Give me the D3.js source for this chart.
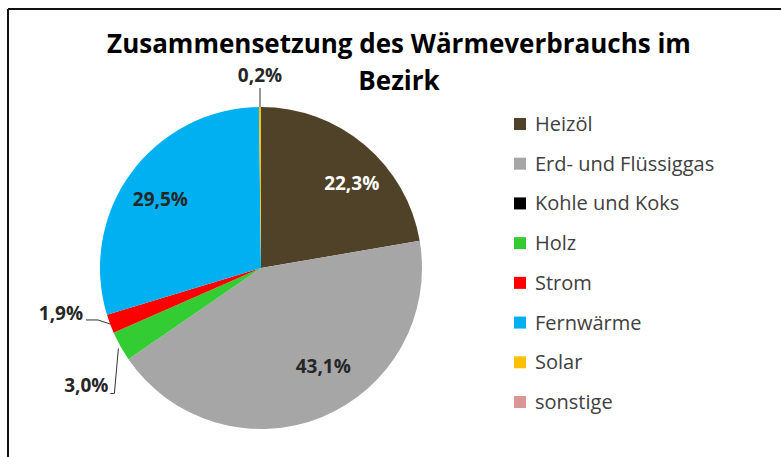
<!DOCTYPE html>
<html lang="de">
<head>
  <meta charset="UTF-8">
  <title>Zusammensetzung des Wärmeverbrauchs im Bezirk</title>
  <script src="https://d3js.org/d3.v7.min.js"></script>
  <style>
    body { margin: 0; background: #fff; }
    svg { display: block; }
    .title { font-family: "Open Sans", sans-serif; font-weight: bold; font-size: 26px; fill: #000; }
    .legend text { font-family: "Open Sans", sans-serif; font-size: 20px; fill: #404040; }
    .lbl { font-family: "Open Sans", sans-serif; font-weight: bold; font-size: 19px; }
  </style>
</head>
<body>
  <svg width="781" height="457"></svg>
  <script>
    const categories = ["Heizöl", "Erd- und Flüssiggas", "Kohle und Koks", "Holz", "Strom", "Fernwärme", "Solar", "sonstige"];
    const values = [22.3, 43.1, 0, 3.0, 1.9, 29.5, 0.2, 0];
    const labels = ["22,3%", "43,1%", "", "3,0%", "1,9%", "29,5%", "0,2%", ""];
    const colors = ["#4f4228", "#a6a6a6", "#000000", "#33cc33", "#ff0000", "#00b0f0", "#ffc000", "#d99694"];

    const svg = d3.select("svg");
    const cx = 261, cy = 268, r = 161;

    // frame (only left and top edges are visible in the shot)
    svg.append("line").attr("x1", 8).attr("y1", 9).attr("x2", 781).attr("y2", 9)
      .attr("stroke", "#111").attr("stroke-width", 2);
    svg.append("line").attr("x1", 8).attr("y1", 9).attr("x2", 8).attr("y2", 457)
      .attr("stroke", "#111").attr("stroke-width", 2);

    // title
    const title = svg.append("text").attr("class", "title").attr("text-anchor", "middle");
    title.append("tspan").attr("x", 399).attr("y", 53).text("Zusammensetzung des Wärmeverbrauchs im");
    title.append("tspan").attr("x", 399).attr("y", 90).text("Bezirk");

    const data = categories.map((c, i) => ({ name: c, value: values[i], label: labels[i], color: colors[i] }));
    const pie = d3.pie().sort(null).value(d => d.value);
    const arcs = pie(data);
    const arc = d3.arc().innerRadius(0).outerRadius(r);

    const g = svg.append("g").attr("transform", `translate(${cx},${cy})`);
    g.selectAll("path")
      .data(arcs.filter(a => a.data.value > 0))
      .join("path")
      .attr("d", arc)
      .attr("fill", d => d.data.color);

    const mid = a => (a.startAngle + a.endAngle) / 2;
    const pt = (ang, rad) => [rad * Math.sin(ang), -rad * Math.cos(ang)];

    // labels inside the slices
    const inside = { "Heizöl": [0.12, 124], "Erd- und Flüssiggas": [-0.18, 116], "Fernwärme": [-0.03, 122] };
    arcs.filter(a => inside[a.data.name]).forEach(a => {
      const [da, rr] = inside[a.data.name];
      const [x, y] = pt(mid(a) + da, rr);
      g.append("text").attr("class", "lbl")
        .attr("x", x).attr("y", y).attr("dy", "0.35em")
        .attr("text-anchor", "middle")
        .attr("fill", a.data.name === "Heizöl" ? "#fff" : "#262626")
        .text(a.data.label);
    });

    // labels outside with leader lines
    const line = d3.line();
    arcs.forEach(a => {
      const n = a.data.name;
      if (!["Solar", "Strom", "Holz"].includes(n)) return;
      const p0 = pt(mid(a), r);
      let pts, tx, ty, anchor;
      if (n === "Solar") {
        pts = [p0, [p0[0], p0[1] - 19]];
        tx = p0[0]; ty = p0[1] - 32; anchor = "middle";
      } else if (n === "Strom") {
        pts = [p0, [p0[0] - 12, p0[1] - 4], [p0[0] - 24, p0[1] - 4]];
        tx = p0[0] - 27; ty = p0[1] - 11; anchor = "end";
      } else {
        pts = [[p0[0] - 2, p0[1] + 2], [p0[0] - 6, p0[1] + 47], [p0[0] - 10, p0[1] + 47]];
        tx = p0[0] - 12; ty = p0[1] + 39; anchor = "end";
      }
      g.append("path").attr("d", line(pts)).attr("fill", "none")
        .attr("stroke", "#333").attr("stroke-width", 1);
      g.append("text").attr("class", "lbl").attr("x", tx).attr("y", ty).attr("dy", "0.35em")
        .attr("text-anchor", anchor).attr("fill", "#262626").text(a.data.label);
    });

    // legend
    const leg = svg.append("g").attr("class", "legend");
    const ly = d3.scalePoint().domain(categories).range([124, 402]);
    const rows = leg.selectAll("g").data(data).join("g")
      .attr("transform", d => `translate(514,${ly(d.name)})`);
    rows.append("rect").attr("x", 0).attr("y", -6).attr("width", 12).attr("height", 12)
      .attr("fill", d => d.color);
    rows.append("text").attr("x", 21).attr("dy", "0.35em").text(d => d.name);
  </script>
</body>
</html>
